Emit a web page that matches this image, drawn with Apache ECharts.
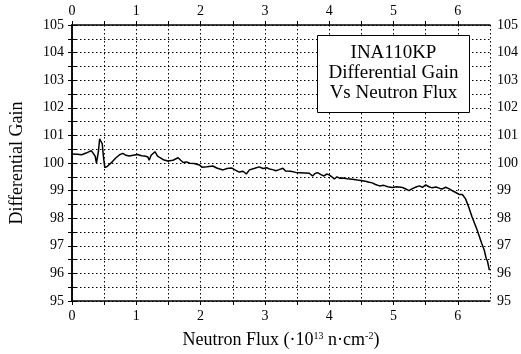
<!DOCTYPE html>
<html>
<head>
<meta charset="utf-8">
<script src="https://cdn.jsdelivr.net/npm/echarts@6/dist/echarts.min.js"></script>
<style>html,body{margin:0;padding:0;background:#fff;}#c{width:521px;height:354px;}</style>
</head>
<body>
<div id="c"></div>
<script>
var flux = [0.00,0.08,0.15,0.22,0.30,0.33,0.36,0.38,0.41,0.43,0.45,0.47,0.49,0.51,0.55,0.58,0.63,0.68,0.74,0.79,0.84,0.89,0.95,1.02,1.08,1.13,1.18,1.20,1.23,1.29,1.33,1.36,1.42,1.49,1.52,1.57,1.65,1.69,1.73,1.78,1.83,1.90,1.98,2.02,2.04,2.10,2.19,2.25,2.30,2.35,2.41,2.48,2.54,2.60,2.66,2.71,2.76,2.83,2.91,2.97,3.03,3.07,3.12,3.17,3.22,3.28,3.32,3.40,3.48,3.55,3.62,3.69,3.74,3.78,3.82,3.87,3.92,3.96,4.00,4.04,4.08,4.12,4.16,4.21,4.28,4.36,4.44,4.52,4.58,4.62,4.67,4.72,4.78,4.85,4.91,4.98,5.05,5.14,5.19,5.24,5.30,5.36,5.40,5.45,5.50,5.55,5.60,5.66,5.72,5.76,5.81,5.86,5.91,5.96,6.02,6.07,6.12,6.17,6.22,6.30,6.37,6.41,6.44,6.46,6.48,6.49];
var gain = [100.33,100.32,100.30,100.36,100.45,100.50,100.25,100.00,100.40,100.88,100.78,100.70,100.20,99.83,99.88,99.95,100.05,100.18,100.30,100.35,100.28,100.25,100.28,100.31,100.26,100.25,100.22,100.10,100.28,100.41,100.25,100.18,100.12,100.07,100.05,100.10,100.19,100.10,100.02,100.04,99.99,99.98,99.93,99.85,99.81,99.86,99.89,99.82,99.78,99.75,99.80,99.82,99.74,99.67,99.70,99.60,99.75,99.80,99.86,99.80,99.83,99.78,99.76,99.72,99.76,99.81,99.71,99.70,99.66,99.65,99.64,99.63,99.53,99.62,99.65,99.58,99.53,99.60,99.57,99.50,99.42,99.50,99.45,99.46,99.43,99.41,99.38,99.36,99.33,99.30,99.28,99.22,99.17,99.19,99.14,99.11,99.14,99.11,99.06,99.00,99.08,99.14,99.17,99.12,99.21,99.14,99.10,99.13,99.08,99.06,99.12,99.07,99.00,98.94,98.86,98.86,98.70,98.40,98.05,97.57,97.09,96.85,96.55,96.45,96.40,96.12];
var xTicks = [0,1,2,3,4,5,6];
var yTicks = [95,96,97,98,99,100,101,102,103,104,105];
var boxLines = ['INA110KP','Differential Gain','Vs Neutron Flux'];

var font = 'Liberation Serif';
var data = flux.map(function(x,i){return [x,gain[i]];});
function xLab(v){ return xTicks.indexOf(v) >= 0 ? String(v) : ''; }
function yLab(v){ return yTicks.indexOf(v) >= 0 ? String(v) : ''; }
var axisLine = {show:true, lineStyle:{color:'#000', width:1.5}};
var dotted = {show:true, lineStyle:{color:'#000', width:1, type:[1.5,2.5]}};
var lab = {color:'#000', fontFamily:font, fontSize:14};
var boxFont = '19px "Liberation Serif"';

var chart = echarts.init(document.getElementById('c'), null, {renderer:'canvas'});
chart.setOption({
  animation:false,
  backgroundColor:'#fff',
  grid:{left:72, right:30, top:25, bottom:53},
  xAxis:[{
    type:'value', min:0, max:6.5, interval:0.5, position:'bottom',
    axisLine:axisLine, axisTick:{show:true, length:4, lineStyle:{color:'#000'}},
    axisLabel:Object.assign({margin:8, formatter:xLab, showMaxLabel:false}, lab),
    splitLine:dotted,
    name:'Neutron Flux (·10{sup|13} n·cm{sup|-2})', nameLocation:'middle', nameGap:30,
    nameTextStyle:{color:'#000', fontFamily:font, fontSize:18,
      rich:{sup:{fontSize:10, fontFamily:font, color:'#000', verticalAlign:'top', padding:[0,0,8,0]}}}
  },{
    type:'value', min:0, max:6.5, interval:0.5, position:'top',
    axisLine:axisLine, axisTick:{show:true, length:4, lineStyle:{color:'#000'}},
    axisLabel:Object.assign({margin:7, formatter:xLab, showMaxLabel:false}, lab),
    splitLine:{show:false}
  }],
  yAxis:[{
    type:'value', min:95, max:105, interval:0.5, position:'left',
    axisLine:axisLine, axisTick:{show:true, length:4, lineStyle:{color:'#000'}},
    axisLabel:Object.assign({margin:8, formatter:yLab}, lab),
    splitLine:dotted,
    name:'Differential Gain', nameLocation:'middle', nameGap:46,
    nameTextStyle:{color:'#000', fontFamily:font, fontSize:18}
  },{
    type:'value', min:95, max:105, interval:0.5, position:'right',
    axisLine:axisLine, axisTick:{show:true, length:4, lineStyle:{color:'#000'}},
    axisLabel:Object.assign({margin:7, formatter:yLab}, lab),
    splitLine:{show:false}
  }],
  series:[{
    type:'line', data:data, xAxisIndex:0, yAxisIndex:0,
    showSymbol:false, symbol:'none',
    lineStyle:{color:'#000', width:1.5}
  }],
  graphic:[{
    type:'group', left:317, top:35, z:100,
    children:[
      {type:'rect', z:100, shape:{x:0,y:0,width:152,height:77}, style:{fill:'#fff', stroke:'#000', lineWidth:1}},
      {type:'text', z:101, x:76, y:18, style:{text:boxLines[0], font:boxFont, fill:'#000', align:'center', verticalAlign:'middle'}},
      {type:'text', z:101, x:76, y:38, style:{text:boxLines[1], font:boxFont, fill:'#000', align:'center', verticalAlign:'middle'}},
      {type:'text', z:101, x:76, y:58, style:{text:boxLines[2], font:boxFont, fill:'#000', align:'center', verticalAlign:'middle'}}
    ]
  }]
});
</script>
</body>
</html>
